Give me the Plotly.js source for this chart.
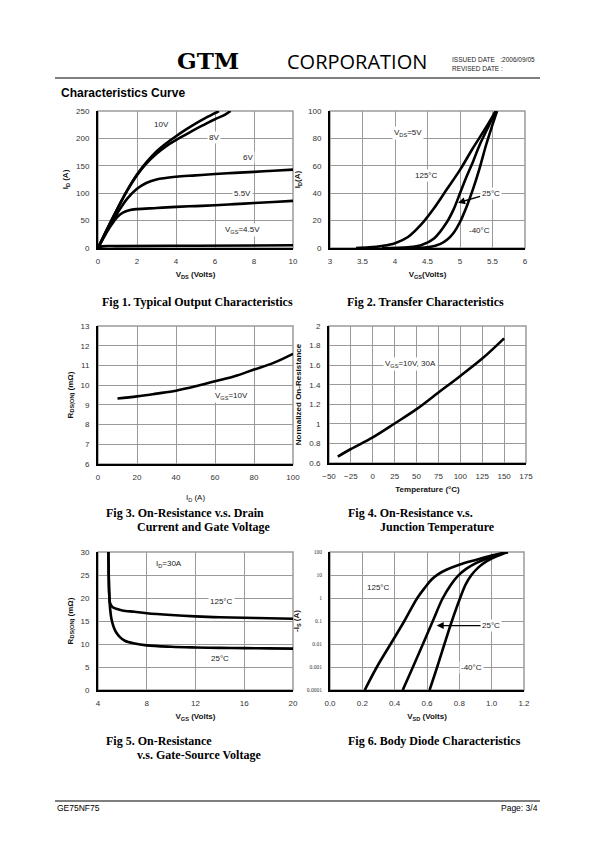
<!DOCTYPE html>
<html><head><meta charset="utf-8">
<script src="https://cdn.plot.ly/plotly-3.0.1.min.js"></script>
<style>html,body{margin:0;padding:0;background:#fff}#chart{width:595px;height:842px}</style>
</head><body><div id="chart"></div>
<script>
// ---------- DATA ----------
// Fig 1: Typical output characteristics (VDS in V, ID in A)
const f1_vds_10V = [0,0.5,1,1.5,2,2.5,3,3.5,4,4.5,5,5.5,6,6.2];
const f1_id_10V  = [0,37,72,105,134,157,176,191,204,216,227,237,246,250];
const f1_vds_8V  = [0,0.5,1,1.5,2,2.5,3,3.5,4,4.5,5,5.5,6,6.5,6.8];
const f1_id_8V   = [0,37,72,105,133,155,172,186,197,207,217,226,235,243,250];
const f1_vds_6V  = [0,0.5,1,1.5,2,2.5,3,4,5,6,7,8,9,10];
const f1_id_6V   = [0,34,64,90,108,119,125,130,132.5,135,137,139,141,143];
const f1_vds_55V = [0,0.5,0.8,1,1.3,1.6,2,3,4,5,6,7,8,9,10];
const f1_id_55V  = [0,32,48,57,65,69,71,73,75,76.5,78,80,82,84,86];
const f1_vds_45V = [0,0.2,1,5,10];
const f1_id_45V  = [0,3,3.5,4.2,5];
const f1_xticks = [0,2,4,6,8,10];
const f1_yticks = [0,50,100,150,200,250];

// Fig 2: Transfer characteristics (VGS in V, ID in A)
const f2_vgs_125 = [3.4,3.6,3.8,4,4.2,4.4,4.6,4.8,5,5.2,5.4,5.55];
const f2_id_125  = [0,0.5,1.5,3.5,8,17,29,43,57,73,88,100];
const f2_vgs_25  = [3.8,4.2,4.4,4.6,4.8,4.9,5,5.1,5.2,5.3,5.4,5.5,5.55];
const f2_id_25   = [0,0.5,2,7,19,28,40,52,63,75,85,95,100];
const f2_vgs_m40 = [4.2,4.5,4.7,4.8,4.9,5,5.1,5.2,5.3,5.4,5.5,5.57];
const f2_id_m40  = [0,0.5,3,6,11,19,30,43,58,75,90,100];
const f2_xticks = [3,3.5,4,4.5,5,5.5,6];
const f2_yticks = [0,20,40,60,80,100];

// Fig 3: RDS(on) vs drain current (ID in A, R in mOhm)
const f3_id  = [10,20,30,40,50,60,70,80,90,100];
const f3_rds = [9.32,9.43,9.57,9.72,9.94,10.2,10.45,10.79,11.13,11.59];
const f3_xticks = [0,20,40,60,80,100];
const f3_yticks = [6,7,8,9,10,11,12,13];

// Fig 4: normalized on-resistance vs junction temperature
const f4_temp = [-40,-25,0,25,50,75,100,125,150];
const f4_rn   = [0.665,0.743,0.862,1.004,1.15,1.32,1.49,1.667,1.874];
const f4_xticks = [-50,-25,0,25,50,75,100,125,150,175];
const f4_yticks = [0.6,0.8,1,1.2,1.4,1.6,1.8,2];

// Fig 5: RDS(on) vs gate-source voltage (VGS in V, R in mOhm)
const f5_vgs_125 = [4.85,4.88,4.92,5.0,5.2,5.6,6,7,8,10,12,14,16,18,20];
const f5_r_125   = [30,25,21,18.8,18.0,17.6,17.3,17.0,16.7,16.3,16.0,15.8,15.7,15.6,15.5];
const f5_vgs_25  = [4.85,4.88,4.92,5.0,5.1,5.3,5.5,5.8,6.2,7,8,10,12,14,16,18,20];
const f5_r_25    = [30,25,21,17.5,15.5,13.6,12.5,11.5,10.7,10.1,9.7,9.4,9.25,9.15,9.1,9.05,9.0];
const f5_xticks = [4,8,12,16,20];
const f5_yticks = [0,5,10,15,20,25,30];

// Fig 6: body diode characteristics (VSD in V, -IS in A)
const f6_vsd_125 = [0.215,0.29,0.375,0.46,0.54,0.59,0.63,0.67,0.72,0.8,0.9,1.0,1.1];
const f6_is_125  = [0.0001,0.001,0.01,0.1,1,3,6.5,11,17,28,45,70,100];
const f6_vsd_25  = [0.45,0.513,0.575,0.636,0.698,0.75,0.79,0.84,0.9,0.97,1.04,1.1];
const f6_is_25   = [0.0001,0.001,0.01,0.1,1,4,9,18,32,52,78,100];
const f6_vsd_m40 = [0.616,0.663,0.708,0.754,0.805,0.84,0.875,0.92,0.97,1.03,1.1];
const f6_is_m40  = [0.0001,0.001,0.01,0.1,1,4,10,22,40,65,100];
const f6_xticks = [0,0.2,0.4,0.6,0.8,1.0,1.2];
const f6_xlabels = ['0.0','0.2','0.4','0.6','0.8','1.0','1.2'];
const f6_yticks = [0.0001,0.001,0.01,0.1,1,10,100];
const f6_ylabels = ['0.0001','0.001','0.01','0.1','1','10','100'];

// ---------- LAYOUT HELPERS ----------
const W = 595, H = 842;
const PX = v => v / W, PY = v => 1 - v / H;
const SANS = 'Liberation Sans, Arial, sans-serif';
const SERIF = 'Liberation Serif, Times New Roman, serif';
const GRID = '#9a9a9a';

// subplot boxes in page pixels [left, right, top, bottom]
const boxes = [
  [98, 293, 111, 248],
  [330, 525, 111, 248],
  [98, 293, 326, 464],
  [329, 526, 326, 463],
  [98, 293, 552, 690],
  [330, 524, 552, 690]
];

function xAxis(i, range, ticks, title, extra) {
  const b = boxes[i];
  return Object.assign({
    domain: [PX(b[0]), PX(b[1])], anchor: 'y' + (i ? i + 1 : ''),
    range: range, tickmode: 'array', tickvals: ticks,
    showgrid: true, gridcolor: GRID, gridwidth: 1,
    showline: true, linecolor: '#000', linewidth: 2, ticks: '',
    zeroline: false, fixedrange: true, ticklabelstandoff: 4,
    tickfont: {family: SANS, size: 8, color: '#333'},
    title: {text: title, font: {family: SANS, size: 8, color: '#111'}, standoff: 7}
  }, extra || {});
}
function yAxis(i, range, ticks, title, extra) {
  const b = boxes[i];
  return Object.assign({
    domain: [PY(b[3]), PY(b[2])], anchor: 'x' + (i ? i + 1 : ''),
    range: range, tickmode: 'array', tickvals: ticks,
    showgrid: true, gridcolor: GRID, gridwidth: 1,
    showline: true, linecolor: '#000', linewidth: 2, ticks: '',
    zeroline: false, fixedrange: true, ticklabelstandoff: 5,
    tickfont: {family: SANS, size: 8, color: '#333'},
    title: {text: title, font: {family: SANS, size: 8, color: '#111'}, standoff: 6}
  }, extra || {});
}

function line(i, x, y) {
  const s = i ? String(i + 1) : '';
  return {type: 'scatter', mode: 'lines', x: x, y: y, xaxis: 'x' + s, yaxis: 'y' + s,
    line: {color: '#000', width: 2.6, shape: 'spline', smoothing: 1},
    hoverinfo: 'skip', showlegend: false};
}

const traces = [
  line(0, f1_vds_10V, f1_id_10V), line(0, f1_vds_8V, f1_id_8V), line(0, f1_vds_6V, f1_id_6V),
  line(0, f1_vds_55V, f1_id_55V), line(0, f1_vds_45V, f1_id_45V),
  line(1, f2_vgs_125, f2_id_125), line(1, f2_vgs_25, f2_id_25), line(1, f2_vgs_m40, f2_id_m40),
  line(2, f3_id, f3_rds),
  line(3, f4_temp, f4_rn),
  line(4, f5_vgs_125, f5_r_125), line(4, f5_vgs_25, f5_r_25),
  line(5, f6_vsd_125, f6_is_125), line(5, f6_vsd_25, f6_is_25), line(5, f6_vsd_m40, f6_is_m40)
];

function lab(i, x, y, text, extra) {
  const s = i ? String(i + 1) : '';
  return Object.assign({xref: 'x' + s, yref: 'y' + s, x: x, y: y, text: text, showarrow: false,
    font: {family: SANS, size: 8, color: '#222'}, bgcolor: '#fff', borderpad: 1}, extra || {});
}
function page(x, y, text, size, family, extra) {
  return Object.assign({xref: 'paper', yref: 'paper', x: PX(x), y: PY(y), text: text, showarrow: false,
    xanchor: 'left', yanchor: 'middle', font: {family: family, size: size, color: '#000'}}, extra || {});
}

const annotations = [
  // Fig 1 labels
  lab(0, 3.26, 226, '10V'), lab(0, 5.93, 201, '8V'), lab(0, 7.7, 165, '6V'),
  lab(0, 7.42, 100, '5.5V'), lab(0, 7.39, 33, 'V<sub>GS</sub>=4.5V'),
  // Fig 2 labels
  lab(1, 4.2, 84, 'V<sub>DS</sub>=5V'), lab(1, 4.48, 53, '125°C'), lab(1, 5.3, 12.6, '-40°C'),
  lab(1, 4.97, 33, '25°C', {showarrow: true, axref: 'x2', ayref: 'y2', ax: 5.47, ay: 40,
    arrowhead: 2, arrowsize: 1, arrowwidth: 1.4, arrowcolor: '#000'}),
  // Fig 3
  lab(2, 68.4, 9.47, 'V<sub>GS</sub>=10V'),
  // Fig 4
  lab(3, 43.5, 1.61, 'V<sub>GS</sub>=10V, 30A'),
  // Fig 5
  lab(4, 9.85, 27.3, 'I<sub>D</sub>=30A'), lab(4, 14.1, 19.3, '125°C'), lab(4, 14, 6.9, '25°C'),
  // Fig 6
  lab(5, 0.3, Math.log10(2.9), '125°C'), lab(5, 0.873, Math.log10(0.001), '-40°C'),
  lab(5, 0.66, Math.log10(0.063), '25°C', {showarrow: true, axref: 'x6', ayref: 'y6', ax: 0.996, ay: Math.log10(0.063),
    arrowhead: 2, arrowsize: 1, arrowwidth: 1.4, arrowcolor: '#000'}),
  // Header / footer
  page(208, 60, '<b>GTM</b>', 23, 'DejaVu Serif, serif', {xanchor: 'center'}),
  page(357, 61, 'CORPORATION', 20, 'Open Sans, Noto Sans, sans-serif', {xanchor: 'center'}),
  page(450, 59, 'ISSUED DATE &nbsp; :2006/09/05', 6.5, SANS, {font: {family: SANS, size: 6.5, color: '#222'}}),
  page(450, 68, 'REVISED DATE :', 6.5, SANS, {font: {family: SANS, size: 6.5, color: '#222'}}),
  page(59, 93, '<b>Characteristics Curve</b>', 12, SANS),
  page(55, 808, 'GE75NF75', 8.5, SANS),
  page(540, 808, 'Page: 3/4', 8.5, SANS, {xanchor: 'right'}),
  // Figure captions
  page(197, 302, '<b>Fig 1. Typical Output Characteristics</b>', 12, SERIF, {xanchor: 'center'}),
  page(425, 302, '<b>Fig 2. Transfer Characteristics</b>', 12, SERIF, {xanchor: 'center'}),
  page(104, 513, '<b>Fig 3. On-Resistance v.s. Drain</b>', 12, SERIF),
  page(135, 527, '<b>Current and Gate Voltage</b>', 12, SERIF),
  page(346, 513, '<b>Fig 4. On-Resistance v.s.</b>', 12, SERIF),
  page(378, 527, '<b>Junction Temperature</b>', 12, SERIF),
  page(104, 741, '<b>Fig 5. On-Resistance</b>', 12, SERIF),
  page(135, 755, '<b>v.s. Gate-Source Voltage</b>', 12, SERIF),
  page(346, 741, '<b>Fig 6. Body Diode Characteristics</b>', 12, SERIF)
];

const shapes = [
  {type: 'line', xref: 'paper', yref: 'paper', x0: PX(55), x1: PX(540), y0: PY(78), y1: PY(78), line: {color: '#000', width: 1.2}},
  {type: 'line', xref: 'paper', yref: 'paper', x0: PX(55), x1: PX(540), y0: PY(801), y1: PY(801), line: {color: '#000', width: 1.2}}
];
boxes.forEach(b => shapes.push({type: 'rect', xref: 'paper', yref: 'paper', layer: 'below',
  x0: PX(b[0]), x1: PX(b[1]), y0: PY(b[3]), y1: PY(b[2]), line: {color: GRID, width: 1.5}}));

const layout = {
  width: W, height: H, margin: {l: 0, r: 0, t: 0, b: 0},
  paper_bgcolor: '#fff', plot_bgcolor: 'rgba(0,0,0,0)', showlegend: false,
  xaxis:  xAxis(0, [0, 10], f1_xticks, '<b>V<sub>DS</sub> (Volts)</b>'),
  yaxis:  yAxis(0, [0, 250], f1_yticks, '<b>I<sub>D</sub> (A)</b>'),
  xaxis2: xAxis(1, [3, 6], f2_xticks, '<b>V<sub>GS</sub>(Volts)</b>'),
  yaxis2: yAxis(1, [0, 100], f2_yticks, '<b>I<sub>D</sub>(A)</b>'),
  xaxis3: xAxis(2, [0, 100], f3_xticks, 'I<sub>D</sub> (A)', {title: {text: 'I<sub>D</sub> (A)', font: {family: SANS, size: 8, color: '#111'}, standoff: 14}}),
  yaxis3: yAxis(2, [6, 13], f3_yticks, '<b>R<sub>DS(ON)</sub> (mΩ)</b>'),
  xaxis4: xAxis(3, [-50, 175], f4_xticks, '<b>Temperature (°C)</b>'),
  yaxis4: yAxis(3, [0.6, 2], f4_yticks, '<b>Normalized On-Resistance</b>'),
  xaxis5: xAxis(4, [4, 20], f5_xticks, '<b>V<sub>GS</sub> (Volts)</b>'),
  yaxis5: yAxis(4, [0, 30], f5_yticks, '<b>R<sub>DS(ON)</sub> (mΩ)</b>'),
  xaxis6: xAxis(5, [0, 1.2], f6_xticks, '<b>V<sub>SD</sub> (Volts)</b>', {ticktext: f6_xlabels}),
  yaxis6: yAxis(5, [-4, 2], f6_yticks, '<b>-I<sub>S</sub> (A)</b>', {type: 'log', ticktext: f6_ylabels,
    tickfont: {family: SERIF, size: 5.5, color: '#333'}}),
  annotations: annotations, shapes: shapes
};

Plotly.newPlot('chart', traces, layout, {staticPlot: true, displayModeBar: false});
</script></body></html>
